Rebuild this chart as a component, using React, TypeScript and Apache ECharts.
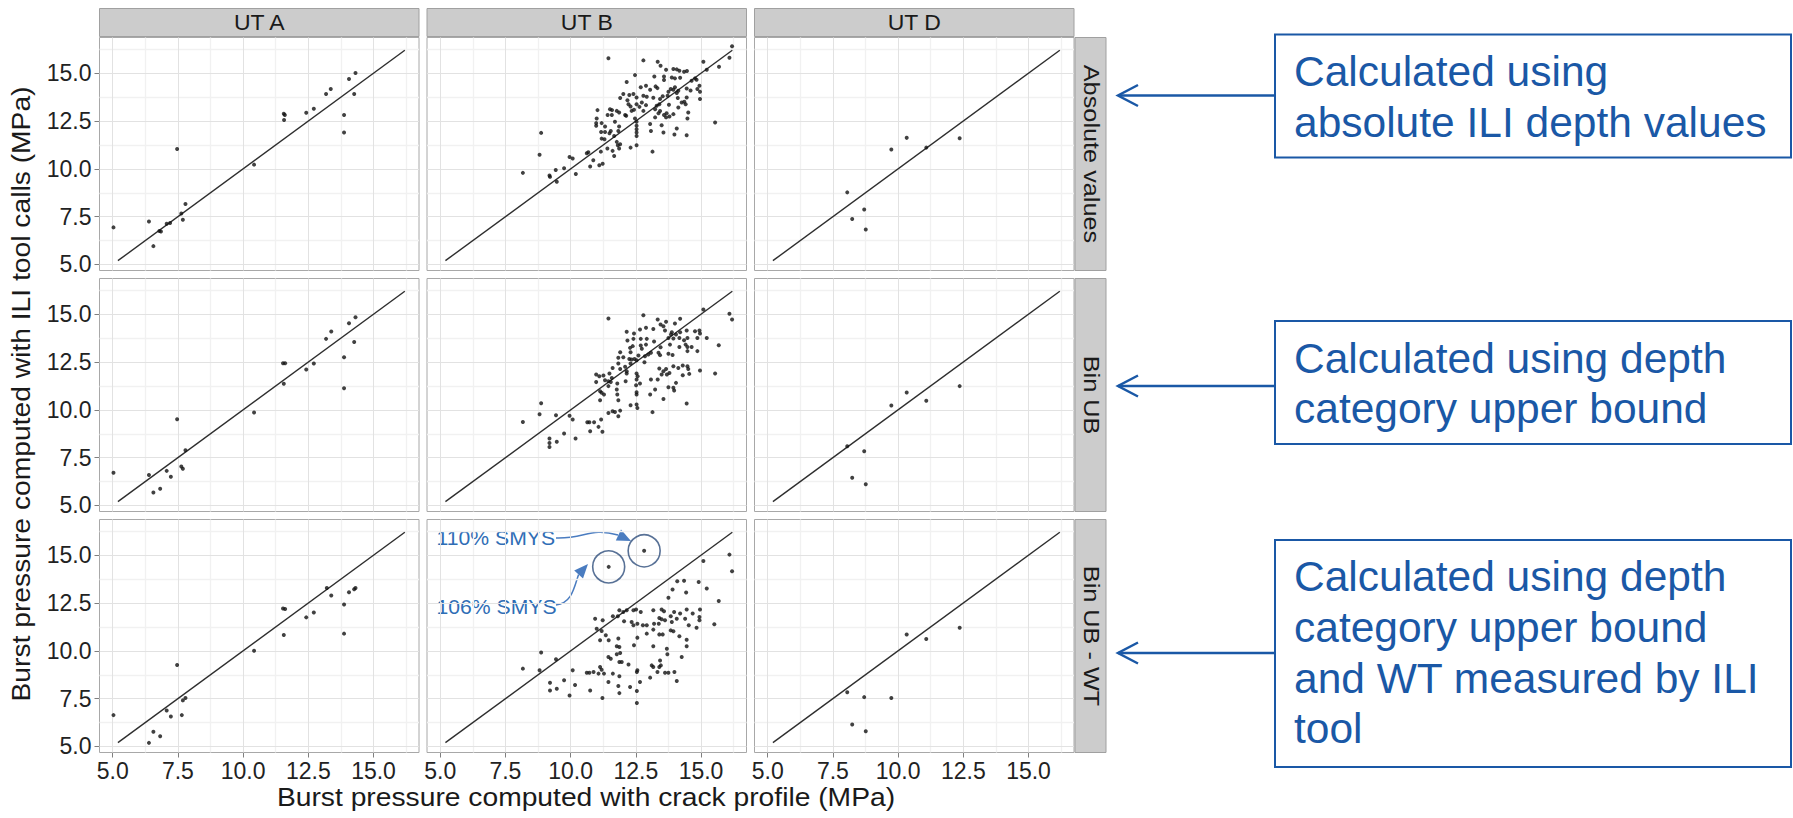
import React, { useEffect, useRef } from "react";
import * as echarts from "echarts";

// ---------------- data ----------------
const COLS = ["UT A", "UT B", "UT D"];
const ROWS = ["Absolute values", "Bin UB", "Bin UB - WT"];
const X_TICKS = [5, 7.5, 10, 12.5, 15];
const Y_TICKS = [5, 7.5, 10, 12.5, 15];
const MINOR = [6.25, 8.75, 11.25, 13.75, 16.25];
const DIAG = [[5.2, 5.2], [16.2, 16.2]];
const X_LABEL = "Burst pressure computed with crack profile (MPa)";
const Y_LABEL = "Burst pressure computed with ILI tool calls (MPa)";
const BOX_TEXTS = [
  ["Calculated using", "absolute ILI depth values"],
  ["Calculated using depth", "category upper bound"],
  ["Calculated using depth", "category upper bound", "and WT measured by ILI", "tool"],
];
const SMYS_LABELS = ["110% SMYS", "106% SMYS"];
const SMYS_POINTS = [[12.82, 15.23], [11.46, 14.39]];

const utA_abs = [[5.03,6.94],[6.39,7.25],[6.56,5.96],[6.79,6.75],[6.85,6.72],[7.07,7.13],[7.2,7.17],[7.47,11.04],[7.63,7.67],[7.69,7.34],[7.79,8.16],[10.42,10.22],[11.56,12.88],[11.6,12.82],[11.57,12.55],[12.42,12.93],[12.71,13.14],[13.18,13.91],[13.36,14.17],[13.87,12.81],[13.87,11.9],[14.06,14.7],[14.31,15.01],[14.26,13.91]];
const utA_binUB = [[5.03,6.71],[6.39,6.59],[6.56,5.68],[6.82,5.87],[7.07,6.81],[7.23,6.5],[7.47,9.51],[7.63,7.04],[7.69,6.92],[7.79,7.89],[10.42,9.86],[11.53,12.44],[11.61,12.44],[11.56,11.36],[12.42,12.11],[12.71,12.42],[13.18,13.71],[13.38,14.09],[13.87,12.75],[13.87,11.13],[14.06,14.53],[14.31,14.84],[14.26,13.55]];
const utA_binUBWT = [[5.03,6.64],[6.39,5.19],[6.56,5.77],[6.82,5.54],[7.07,6.88],[7.23,6.57],[7.47,9.26],[7.65,6.64],[7.69,7.41],[7.79,7.53],[10.42,10.01],[11.53,12.21],[11.61,12.19],[11.56,10.83],[12.42,11.75],[12.71,12.0],[13.21,13.29],[13.38,12.89],[13.87,12.42],[13.87,10.9],[14.06,13.06],[14.26,13.22],[14.31,13.29]];

const utB_abs = [[8.17,9.79],[8.81,10.74],[8.87,11.88],[9.19,9.65],[9.21,9.58],[9.47,9.33],[9.43,9.94],[9.75,10.03],[9.96,10.62],[10.08,10.54],[10.2,9.73],
[11.45,15.78],[12.79,15.67],[13.34,15.6],[13.45,15.39],[13.66,15.18],[13.94,15.22],[14.07,15.2],[14.17,15.13],[14.35,15.08],[14.46,15.11],[15.09,15.6],[15.22,15.18],[15.69,15.34],[16.09,15.81],[16.19,16.41],
[12.47,14.9],[13.21,14.83],[13.58,14.83],[13.88,14.78],[14.0,14.73],[14.2,14.76],[13.58,14.64],[14.77,14.73],[14.83,14.66],[12.15,14.54],[12.69,14.26],[12.89,14.34],[13.05,14.13],[13.26,14.31],[13.33,14.22],[13.84,14.17],[13.94,14.13],[13.75,14.03],[14.0,14.26],[14.07,13.96],[14.13,14.08],[14.45,14.2],[14.6,14.1],[14.86,14.17],[14.94,14.34],[14.96,14.03],[14.64,14.61],
[11.9,13.7],[12.02,13.91],[12.25,13.86],[12.41,13.91],[12.53,13.73],[12.18,13.59],[12.79,13.82],[12.92,13.77],[13.17,13.72],[13.43,13.65],[13.53,13.79],[13.72,13.82],[14.11,13.7],[14.45,13.73],[14.96,13.65],
[12.22,13.38],[12.3,13.26],[12.53,13.38],[12.64,13.24],[12.73,13.47],[12.89,13.33],[13.3,13.3],[13.4,13.38],[13.77,13.35],[14.26,13.47],[14.36,13.51],[14.13,13.21],[14.41,13.38],
[11.59,13.07],[11.51,13.12],[11.42,12.81],[11.58,12.81],[11.77,13.03],[11.86,12.95],[12.09,12.82],[12.34,13.03],[12.43,13.09],[12.79,13.03],[13.24,13.12],[13.43,13.02],[13.37,12.91],[13.58,12.81],[13.68,12.91],[13.94,12.86],[14.51,12.95],[14.48,12.63],
[11.03,13.07],[11.0,12.63],[10.98,12.39],[10.98,12.25],[11.19,12.39],[11.32,12.21],[11.7,12.46],[11.86,12.21],[12.13,12.77],[12.47,12.63],[12.53,12.46],[12.53,12.25],[12.53,12.07],[12.53,11.9],[12.53,11.72],[13.05,12.34],[13.24,12.69],[13.66,12.69],[13.79,12.74],[13.49,12.28],[14.07,12.11],
[11.17,11.93],[11.32,11.93],[11.49,11.86],[11.54,11.98],[11.83,11.98],[13.08,11.98],[13.56,11.9],[13.98,11.79],[14.45,11.76],[15.54,12.42],
[11.19,11.58],[11.3,11.55],[11.67,11.72],[11.77,11.41],[11.9,11.29],[11.81,11.23],[12.53,11.23],[12.3,11.11],[11.41,11.06],[11.61,10.94],[11.86,11.06],[11.16,10.9],[10.68,10.87],[10.62,10.82],[11.67,10.67],[10.87,10.45],[10.75,10.12],[11.1,10.19],[11.23,10.27],[13.14,10.9]];

const utB_binUB = [[8.17,9.37],[8.81,9.77],[8.87,10.35],[9.19,8.5],[9.19,8.27],[9.19,8.06],[9.47,8.33],[9.44,9.72],[9.75,8.76],[9.96,9.69],[10.08,9.49],[10.19,8.5],
[11.45,14.77],[12.79,14.95],[15.09,15.24],[16.09,15.02],[16.19,14.72],[13.34,14.72],[13.66,14.6],[14.0,14.51],[14.2,14.76],[13.45,14.46],[13.56,14.37],
[12.15,14.08],[12.43,13.99],[12.66,14.2],[12.89,14.29],[13.17,14.23],[13.62,14.15],[13.88,14.06],[13.85,13.94],[14.04,13.94],[14.2,14.06],[14.45,14.15],[14.77,14.11],[14.94,14.15],[14.96,13.99],
[12.18,13.62],[12.41,13.71],[12.69,13.71],[12.92,13.71],[13.2,13.57],[13.75,13.76],[13.94,13.73],[14.17,13.76],[14.35,13.64],[14.48,13.76],[14.86,13.76],[15.22,13.76],[15.68,13.38],
[12.28,13.24],[12.38,13.33],[12.69,13.36],[12.89,13.41],[12.73,13.19],[13.45,13.27],[13.81,13.41],[14.17,13.29],[14.41,13.41],[14.48,13.29],[14.64,13.29],[14.86,13.07],
[11.9,13.01],[12.3,13.01],[12.6,12.84],[12.85,12.8],[12.98,12.89],[13.08,12.98],[13.37,12.98],[13.43,12.86],[13.75,12.93],[13.91,12.87],[14.48,13.07],
[11.83,12.72],[12.02,12.75],[12.25,12.66],[12.34,12.63],[12.45,12.66],[12.53,12.59],[11.83,12.42],[12.3,12.42],[12.83,12.49],
[11.61,12.19],[11.9,12.14],[12.09,12.25],[12.15,12.02],[13.4,12.16],[13.66,12.14],[13.94,12.28],[14.13,12.19],[14.3,12.32],[14.48,12.28],[14.51,12.14],[14.96,12.06],[15.54,11.9],
[10.98,11.85],[11.1,11.76],[11.26,11.79],[11.49,11.9],[11.58,11.67],[12.15,11.9],[12.53,11.9],[12.57,11.76],[13.49,11.85],[13.56,12.02],[13.69,11.85],[13.79,11.93],[14.3,11.81],[14.55,11.88],
[10.98,11.45],[11.32,11.55],[11.45,11.5],[11.54,11.45],[11.79,11.38],[12.11,11.5],[12.53,11.59],[12.51,11.29],[12.66,11.38],[13.08,11.59],[13.34,11.59],[14.04,11.41],
[11.13,10.97],[11.19,10.89],[11.28,10.8],[11.45,11.24],[11.77,11.06],[11.79,10.8],[12.53,10.92],[12.53,10.8],[13.05,10.8],[13.24,11.06],[13.75,11.18],[13.94,11.15],[13.97,11.01],
[11.13,10.5],[11.83,10.5],[13.56,10.57],[12.3,10.24],[12.53,10.28],[12.56,10.1],[14.45,10.33],
[11.45,9.84],[11.61,9.93],[11.7,9.89],[11.9,9.96],[11.83,9.67],[13.14,9.88],[10.64,9.35],[10.72,9.35],[10.9,9.35],[11.17,9.49],[11.07,9.11],[10.75,8.88],[11.22,8.85]];

const utB_binUBWT = [[12.82,15.23],[11.46,14.39],[16.09,15.03],[16.19,14.16],[15.09,14.7],[14.09,13.64],[14.35,13.66],[14.91,13.6],[15.22,13.26],[15.68,12.61],[13.91,13.21],[14.43,13.05],[13.75,12.78],[15.51,11.39],
[14.96,12.16],[14.94,11.77],[14.94,11.6],[14.68,11.95],[14.83,11.21],[14.53,11.34],[14.45,12.16],[14.2,11.95],[14.39,11.68],[13.97,12.03],[13.84,11.81],[14.07,11.68],[13.88,11.51],[13.49,12.16],[13.58,12.07],[13.17,12.12],[13.4,11.72],[13.49,11.65],[13.62,11.6],[13.2,11.42],[13.38,11.42],[13.84,11.07],[13.94,11.02],[14.17,10.76],[13.4,10.86],[13.53,10.86],[12.92,10.9],
[12.51,12.16],[12.41,12.12],[12.15,12.12],[12.02,12.03],[11.87,12.12],[11.62,11.81],[11.81,11.81],[12.05,11.55],[12.34,11.51],[12.41,11.34],[12.56,11.42],[12.69,12.03],[12.77,11.34],[12.92,11.34],[13.17,11.11],
[10.94,11.68],[11.23,11.6],[11.0,11.16],[11.19,11.04],[11.35,10.81],[11.13,10.55],[11.46,10.55],[11.83,10.64],[11.77,10.24],[11.87,10.2],[12.43,10.29],[12.56,10.69],[13.17,10.24],[13.69,10.11],[13.71,9.82],[14.45,10.24],[14.45,10.58],[14.26,9.68],
[11.45,9.68],[11.54,9.59],[11.77,9.82],[11.9,9.89],[11.87,9.42],[11.96,9.42],[12.22,9.29],[12.54,8.89],[12.56,8.98],[13.11,9.24],[13.43,9.5],[13.46,9.24],[13.17,9.16],[13.4,9.16],[13.62,8.86],[13.75,8.86],[13.33,8.89],[13.05,8.6],[13.98,8.89],[14.07,8.42],
[11.13,9.15],[11.19,9.01],[11.28,8.81],[11.07,8.81],[10.88,8.89],[10.62,8.86],[10.72,8.86],[10.08,8.98],[11.62,8.81],[11.87,8.67],[11.45,8.37],[11.83,8.16],[11.87,7.79],[12.28,8.11],[12.66,8.37],[12.54,7.9],[12.54,7.27],[11.22,7.53],[10.75,7.93],[10.17,8.21],[9.96,7.67],[9.75,8.46],[9.47,8.02],[9.21,8.33],[9.21,7.93],[9.44,9.56],[8.87,9.91],[8.81,8.98],[8.17,9.07]];

const utD_abs = [[8.05,8.77],[8.7,7.88],[8.24,7.38],[8.76,6.83],[9.74,11.01],[10.33,11.62],[11.08,11.11],[12.36,11.6]];
const utD_binUB = [[8.05,8.1],[8.7,7.84],[8.24,6.45],[8.76,6.11],[9.74,10.23],[10.33,10.91],[11.08,10.47],[12.36,11.24]];
const utD_binUBWT = [[8.05,7.84],[8.7,7.58],[9.74,7.53],[8.24,6.15],[8.76,5.8],[10.33,10.85],[11.08,10.62],[12.36,11.21]];

// panels[row][col]
const PANELS = [
  [utA_abs, utB_abs, utD_abs],
  [utA_binUB, utB_binUB, utD_binUB],
  [utA_binUBWT, utB_binUBWT, utD_binUBWT],
];

// ---------------- layout ----------------
const W = 1793;
const H = 818;
const COL_LEFT = [99.5, 427, 754.5];
const COL_W = 319.5;
const ROW_TOP = [37.5, 278.5, 519.5];
const ROW_H = 233;
const X_MIN = 4.494, X_MAX = 16.744;
const Y_MIN = 4.686, Y_MAX = 16.866;
const FONT = "'Liberation Sans', Arial, Helvetica, sans-serif";
const BLUE = "#1a58a6";
const ANN_BLUE = "#2f6db5";

function txt(x: number, y: number, text: string, size: number, extra: any = {}) {
  const { fill = "#1a1a1a", align = "center", rotation = 0, scaleX = 1, scaleY = 1 } = extra;
  return {
    type: "text",
    x, y, rotation, scaleX, scaleY,
    silent: true,
    style: {
      text, fill, fontSize: size, fontFamily: FONT,
      align, verticalAlign: "middle", textAlign: align, textVerticalAlign: "middle",
    },
  };
}

function buildOption() {
  const grid: any[] = [];
  const xAxis: any[] = [];
  const yAxis: any[] = [];
  const series: any[] = [];
  const fmt = (v: number) => v.toFixed(1);

  for (let r = 0; r < 3; r++) {
    for (let c = 0; c < 3; c++) {
      const k = r * 3 + c;
      grid.push({
        left: COL_LEFT[c], top: ROW_TOP[r], width: COL_W, height: ROW_H,
        show: true, backgroundColor: "#ffffff", borderColor: "#a8a8a8", borderWidth: 1,
        containLabel: false, outerBoundsMode: "none",
      });
      xAxis.push({
        type: "value", gridIndex: k, min: X_MIN, max: X_MAX,
        axisLine: { show: false }, splitLine: { show: false },
        axisTick: { show: r === 2, customValues: X_TICKS, length: 5, lineStyle: { color: "#7f7f7f", width: 1 } },
        axisLabel: { show: r === 2, customValues: X_TICKS, formatter: fmt, fontSize: 23, color: "#222222", fontFamily: FONT, margin: 7 },
      });
      yAxis.push({
        type: "value", gridIndex: k, min: Y_MIN, max: Y_MAX,
        axisLine: { show: false }, splitLine: { show: false },
        axisTick: { show: c === 0, customValues: Y_TICKS, length: 5, lineStyle: { color: "#7f7f7f", width: 1 } },
        axisLabel: { show: c === 0, customValues: Y_TICKS, formatter: fmt, fontSize: 23, color: "#222222", fontFamily: FONT, margin: 8 },
      });
      const gridLines: any[] = [];
      MINOR.forEach((v) => {
        gridLines.push({ xAxis: v, lineStyle: { color: "#f1f1f1", width: 1.3, type: "solid" } });
        gridLines.push({ yAxis: v, lineStyle: { color: "#f1f1f1", width: 1.3, type: "solid" } });
      });
      X_TICKS.forEach((v) => gridLines.push({ xAxis: v, lineStyle: { color: "#e2e2e2", width: 1, type: "solid" } }));
      Y_TICKS.forEach((v) => gridLines.push({ yAxis: v, lineStyle: { color: "#e2e2e2", width: 1, type: "solid" } }));

      series.push({
        type: "line", xAxisIndex: k, yAxisIndex: k, data: DIAG, showSymbol: false, symbol: "none",
        lineStyle: { color: "#2e2e2e", width: 1.4 }, z: 2, silent: true,
        markLine: {
          silent: true, symbol: ["none", "none"], label: { show: false }, z: 1,
          emphasis: { disabled: true }, animation: false, data: gridLines,
        },
      });
      series.push({
        type: "scatter", xAxisIndex: k, yAxisIndex: k, data: PANELS[r][c],
        symbol: "circle", symbolSize: 4, itemStyle: { color: "#111111" }, z: 3, silent: true,
      });
      if (r === 2 && c === 1) {
        series.push({
          type: "scatter", xAxisIndex: k, yAxisIndex: k, data: SMYS_POINTS,
          symbol: "circle", symbolSize: 32, z: 4, silent: true,
          itemStyle: { color: "rgba(0,0,0,0)", borderColor: "#2e4d7c", borderWidth: 1.6 },
        });
      }
    }
  }

  const graphic: any[] = [];
  // column strips
  COLS.forEach((name, c) => {
    graphic.push({ type: "rect", silent: true, shape: { x: COL_LEFT[c], y: 8.5, width: COL_W, height: 28 }, style: { fill: "#cccccc", stroke: "#a0a0a0", lineWidth: 1 } });
    graphic.push(txt(COL_LEFT[c] + COL_W / 2, 23, name, 21.5, { scaleX: 1.07 }));
  });
  // row strips
  ROWS.forEach((name, r) => {
    graphic.push({ type: "rect", silent: true, shape: { x: 1075, y: ROW_TOP[r], width: 31, height: ROW_H }, style: { fill: "#cccccc", stroke: "#a0a0a0", lineWidth: 1 } });
    graphic.push(txt(1091, ROW_TOP[r] + ROW_H / 2, name, 22, { rotation: -Math.PI / 2, scaleX: 1.15 }));
  });
  // axis titles
  graphic.push(txt(586, 798, X_LABEL, 25, { scaleX: 1.13 }));
  graphic.push(txt(22, 394, Y_LABEL, 25, { rotation: Math.PI / 2, scaleX: 1.13 }));

  // SMYS annotations
  graphic.push(txt(436.5, 538, SMYS_LABELS[0], 20, { fill: ANN_BLUE, align: "left", scaleX: 1.06 }));
  graphic.push(txt(436.5, 607, SMYS_LABELS[1], 20, { fill: ANN_BLUE, align: "left", scaleX: 1.06 }));
  graphic.push({ type: "bezierCurve", silent: true, shape: { x1: 556, y1: 538, cpx1: 585, cpy1: 539, cpx2: 590, cpy2: 527, x2: 618, y2: 535 }, style: { stroke: "#4a7cc0", lineWidth: 1.5, fill: "none" } });
  graphic.push({ type: "polygon", silent: true, shape: { points: [[631, 541], [621, 529.6], [615.8, 540.4]] }, style: { fill: "#4a7cc0" } });
  graphic.push({ type: "bezierCurve", silent: true, shape: { x1: 556, y1: 605, cpx1: 572, cpy1: 603, cpx2: 574, cpy2: 588, x2: 578.6, y2: 574.4 }, style: { stroke: "#4a7cc0", lineWidth: 1.5, fill: "none" } });
  graphic.push({ type: "polygon", silent: true, shape: { points: [[588, 564], [583, 578.4], [574.2, 570.4]] }, style: { fill: "#4a7cc0" } });

  // right-hand boxes
  const boxes = [
    { y: 34.5, h: 123, arrowY: 95.5, lineY: [71.5, 122.4] },
    { y: 321, h: 123, arrowY: 386, lineY: [358.4, 408.7] },
    { y: 540, h: 227, arrowY: 653, lineY: [576.5, 627.4, 678.2, 728.6] },
  ];
  boxes.forEach((b, i) => {
    graphic.push({ type: "rect", silent: true, shape: { x: 1275, y: b.y, width: 516, height: b.h }, style: { fill: "#ffffff", stroke: BLUE, lineWidth: 2 } });
    BOX_TEXTS[i].forEach((line, j) => {
      graphic.push(txt(1294, b.lineY[j], line, 42.5, { fill: BLUE, align: "left" }));
    });
    graphic.push({ type: "line", silent: true, shape: { x1: 1275, y1: b.arrowY, x2: 1118, y2: b.arrowY }, style: { stroke: BLUE, lineWidth: 2.5 } });
    graphic.push({ type: "polyline", silent: true, shape: { points: [[1138, b.arrowY - 10.5], [1118, b.arrowY], [1138, b.arrowY + 10.5]] }, style: { stroke: BLUE, lineWidth: 2.5, fill: "none" } });
  });

  return {
    animation: false,
    backgroundColor: "#ffffff",
    grid, xAxis, yAxis, series, graphic,
  };
}

export default function App() {
  const ref = useRef<HTMLDivElement>(null);
  useEffect(() => {
    if (!ref.current) return;
    const chart = echarts.init(ref.current, undefined, { renderer: "svg" });
    chart.setOption(buildOption() as any);
    return () => chart.dispose();
  }, []);
  return (
    <div
      ref={ref}
      style={{ position: "absolute", left: 0, top: 0, width: W, height: H, background: "#fff" }}
    />
  );
}
